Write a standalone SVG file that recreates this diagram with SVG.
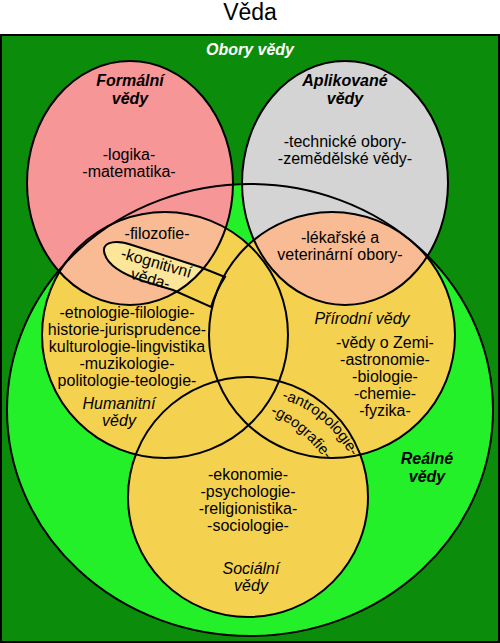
<svg xmlns="http://www.w3.org/2000/svg" width="500" height="643" viewBox="0 0 500 643">
<style>
text{font-family:"Liberation Sans",Arial,sans-serif;font-size:16px;fill:#000;text-anchor:middle}
.h{font-weight:bold;font-style:italic}
.i{font-style:italic}
.ol{fill:none;stroke:#000;stroke-width:2}
</style>
<defs>
<ellipse id="eR" cx="250" cy="410" rx="243" ry="226"/>
<ellipse id="eF" cx="130" cy="183" rx="103" ry="122"/>
<ellipse id="eA" cx="345" cy="183" rx="103" ry="122"/>
<circle id="cH" cx="165" cy="335" r="123"/>
<circle id="cP" cx="332" cy="335" r="123"/>
<circle id="cS" cx="248" cy="497" r="120"/>
<path id="pK" d="M104,251 C103,241 118,240 132,245 L200,267 L225,277 A123,123 0 0 0 211,307 L173,290 L143,281 C125,275 106,266 104,251 Z"/>
<path id="tA" d="M278,398 Q326,410 353,460" fill="none"/>
<path id="tG" d="M268,413 Q300,425 327,462" fill="none"/>
<clipPath id="clipF"><use href="#eF"/></clipPath>
<clipPath id="clipA"><use href="#eA"/></clipPath>
</defs>
<text x="250" y="20" style="font-size:23px">Věda</text>
<g id="obory-vedy">
<rect x="1" y="35" width="498" height="607" fill="#0b8c0b" stroke="#000" stroke-width="2"/>
<text class="h" x="250" y="55" style="fill:#fff">Obory vědy</text>
</g>
<g id="realne-vedy">
<use href="#eR" fill="#24f02a"/>
<text class="h" x="427" y="464">Reálné</text>
<text class="h" x="427" y="482">vědy</text>
</g>
<g id="formalni-vedy">
<use href="#eF" fill="#f79696"/>
<text class="h" x="130" y="86">Formální</text>
<text class="h" x="130" y="104">vědy</text>
<text x="129" y="160">-logika-</text>
<text x="129" y="177">-matematika-</text>
</g>
<g id="aplikovane-vedy">
<use href="#eA" fill="#d4d4d4"/>
<text class="h" x="345" y="86">Aplikované</text>
<text class="h" x="345" y="104">vědy</text>
<text x="345" y="147">-technické obory-</text>
<text x="345" y="164">-zemědělské vědy-</text>
</g>
<g id="humanitni-vedy">
<use href="#cH" fill="#f4d24f"/>
<text x="127" y="318">-etnologie-filologie-</text>
<text x="127" y="335">historie-jurisprudence-</text>
<text x="127" y="352">kulturologie-lingvistika</text>
<text x="127" y="369">-muzikologie-</text>
<text x="127" y="386">politologie-teologie-</text>
<text class="i" x="119" y="409">Humanitní</text>
<text class="i" x="119" y="426">vědy</text>
</g>
<g id="prirodni-vedy">
<use href="#cP" fill="#f4d24f"/>
<text class="i" x="362" y="324">Přírodní vědy</text>
<text x="385" y="348">-vědy o Zemi-</text>
<text x="385" y="365">-astronomie-</text>
<text x="385" y="382">-biologie-</text>
<text x="385" y="399">-chemie-</text>
<text x="385" y="416">-fyzika-</text>
</g>
<g id="socialni-vedy">
<use href="#cS" fill="#f4d24f"/>
<text x="248" y="480">-ekonomie-</text>
<text x="248" y="497">-psychologie-</text>
<text x="248" y="514">-religionistika-</text>
<text x="248" y="531">-sociologie-</text>
<text class="i" x="251" y="574">Sociální</text>
<text class="i" x="251" y="591">vědy</text>
</g>
<g id="filozofie">
<use href="#cH" fill="#f8bb93" clip-path="url(#clipF)"/>
<text x="157" y="239">-filozofie-</text>
</g>
<g id="lekarske-obory">
<use href="#cP" fill="#f8bb93" clip-path="url(#clipA)"/>
<text x="340" y="243">-lékařské a</text>
<text x="340" y="260">veterinární obory-</text>
</g>
<g id="kognitivni-veda">
<use href="#pK" fill="#fbe69a" clip-path="url(#clipF)"/>
<use href="#pK" class="ol"/>
<text transform="translate(155,268) rotate(16)">-kognitivní</text>
<text transform="translate(149,284) rotate(16)">věda-</text>
</g>
<g id="antropologie-geografie">
<text style="font-size:15px"><textPath href="#tA" startOffset="50%">-antropologie-</textPath></text>
<text style="font-size:15px"><textPath href="#tG" startOffset="50%">-geografie-</textPath></text>
</g>
<g id="connectors">
<use href="#eR" class="ol"/>
<use href="#eF" class="ol"/>
<use href="#eA" class="ol"/>
<use href="#cH" class="ol"/>
<use href="#cP" class="ol"/>
<use href="#cS" class="ol"/>
</g>
</svg>
